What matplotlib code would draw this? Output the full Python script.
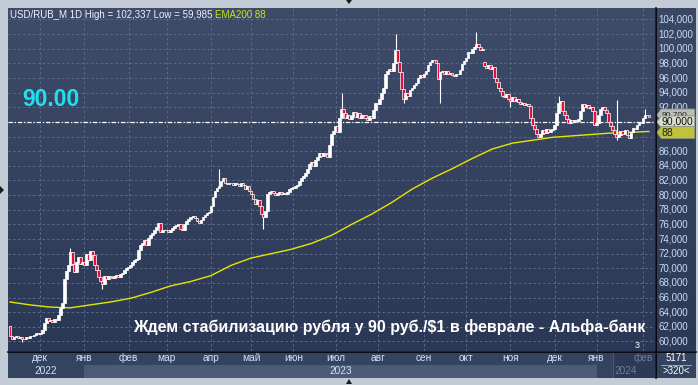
import matplotlib.pyplot as plt
import numpy as np
import pandas as pd
from matplotlib.colors import LinearSegmentedColormap
from matplotlib.lines import Line2D
from matplotlib.patches import Polygon, Rectangle
from matplotlib.transforms import blended_transform_factory

plt.rcParams["font.family"] = ["Liberation Sans", "DejaVu Sans"]

W, H = 698, 385

# ---- data: USD/RUB_M daily closes ----
START, END = "2022-11-10", "2024-02-06"
HOLIDAYS = ["2023-02-23", "2023-03-08", "2023-05-01", "2023-05-09", "2023-06-12"]

close_nov22 = [60.7, 60.4, 60.6, 60.8, 60.5, 60.6, 60.3, 60.4, 60.6, 60.5, 60.8, 60.7, 60.9, 61.2, 61.0]
close_dec22 = [61.2, 61.6, 62.5, 63.2, 62.8, 63.0, 62.6, 63.1, 62.9, 63.6, 64.6, 65.2, 68.5, 69.6,
               70.5, 72.2, 70.6, 69.5, 70.8, 71.6, 70.6, 70.9]
close_jan23 = [70.4, 72.0, 71.2, 72.3, 71.8, 70.5, 69.8, 68.8, 68.2, 67.9, 68.9, 68.6, 69.0, 68.8,
               68.7, 68.9, 69.1, 68.8, 69.2, 69.4, 69.8, 70.0]
close_feb23 = [70.2, 70.5, 70.9, 71.1, 71.3, 72.5, 73.2, 73.5, 73.9, 73.2, 74.2, 74.5, 74.8, 75.2,
               75.6, 76.2, 75.0, 75.3, 75.2]
close_mar23 = [75.2, 75.0, 75.3, 75.5, 75.8, 75.9, 76.0, 75.4, 75.2, 76.1, 76.5, 76.8, 77.0, 77.2,
               76.9, 76.4, 76.2, 76.6, 77.0, 77.3, 77.5, 77.7]
close_apr23 = [78.5, 79.8, 80.6, 81.0, 81.3, 81.9, 82.4, 81.6, 81.5, 81.7, 81.6, 81.4, 81.7, 81.5,
               81.3, 81.6, 81.4, 80.9, 81.2, 80.6]
close_may23 = [80.2, 79.5, 78.8, 79.3, 78.5, 77.4, 77.0, 77.8, 80.2, 80.4, 80.6, 80.3, 80.0, 80.2,
               80.4, 80.1, 80.3, 80.2, 80.4, 80.8, 81.0]
close_jun23 = [81.0, 81.2, 81.4, 81.9, 82.3, 82.6, 83.0, 83.6, 84.2, 84.5, 84.0, 84.8, 85.2, 85.8,
               85.3, 85.7, 85.6, 85.2, 86.8, 88.3, 88.8]
close_jul23 = [89.5, 88.6, 90.5, 91.8, 91.2, 90.6, 91.0, 90.4, 90.8, 91.3, 90.7, 91.2, 90.6, 90.9,
               91.0, 90.5, 90.3, 90.8, 90.6, 91.7, 92.6]
close_aug23 = [92.4, 93.2, 94.0, 94.6, 96.5, 96.9, 97.3, 97.0, 98.0, 99.8, 98.2, 96.8, 94.5, 93.2,
               94.0, 93.6, 94.3, 94.6, 95.0, 95.3, 96.0, 96.4, 96.2]
close_sep23 = [96.6, 97.0, 97.8, 98.2, 98.5, 98.4, 98.1, 95.8, 96.8, 97.0, 96.6, 96.9, 96.5, 96.7,
               96.4, 96.3, 96.6, 96.5, 97.1, 97.9, 98.3]
close_oct23 = [98.8, 99.6, 99.4, 99.9, 100.3, 100.6, 100.2, 99.8, 100.0, 97.6, 97.4, 97.8, 97.3,
               97.5, 96.0, 95.5, 94.6, 94.2, 93.6, 93.4, 93.8, 93.2]
close_nov23 = [92.9, 93.4, 92.9, 93.1, 92.7, 92.4, 92.6, 92.3, 92.5, 92.2, 90.6, 89.6, 89.0, 88.4,
               88.0, 88.3, 88.9, 88.5, 89.0, 88.6, 88.9, 89.1]
close_dec23 = [89.6, 91.2, 92.6, 92.9, 91.5, 91.0, 90.4, 89.9, 90.2, 90.0, 90.3, 90.1, 90.4, 91.5,
               92.4, 92.0, 92.3, 91.9, 92.1, 91.5, 89.6]
close_jan24 = [89.8, 91.0, 91.8, 92.0, 91.6, 91.2, 90.0, 89.4, 88.9, 88.3, 87.9, 88.2, 88.8, 88.4,
               88.9, 88.2, 87.8, 88.6, 89.2, 89.0, 89.6, 90.0, 89.8]
close_feb24 = [90.5, 91.0, 90.9, 90.7]

FIRST_OPEN = 62.1
OPEN_GAPS = {"2023-10-13": 98.2}
# visible shadows: date -> (low, high), None keeps the body end
WICKS = {
    "2022-11-18": (59.985, None),
    "2022-12-22": (None, 72.8),
    "2023-01-13": (67.2, None),
    "2023-04-07": (None, 83.6),
    "2023-05-11": (75.4, None),
    "2023-07-06": (None, 94.0),
    "2023-08-14": (None, 101.95),
    "2023-08-18": (92.6, None),
    "2023-09-13": (92.6, None),
    "2023-10-09": (None, 102.337),
    "2023-11-01": (92.0, None),
    "2023-12-05": (None, 93.5),
    "2024-01-15": (87.5, 93.0),
    "2024-02-02": (None, 91.8),
}

# EMA200, every 10th bar
ema_bar = [0, 10, 20, 30, 40, 50, 60, 70, 80, 90, 100, 110, 120, 130, 140, 150, 160, 170, 180,
           190, 200, 210, 220, 230, 240, 250, 260, 270, 280, 290, 300, 310, 318]
ema_val = [65.4, 65.0, 64.7, 64.6, 65.0, 65.4, 65.9, 66.7, 67.6, 68.2, 69.0, 70.4, 71.4, 72.0,
           72.6, 73.4, 74.5, 76.0, 77.4, 79.0, 80.8, 82.3, 83.6, 85.0, 86.3, 87.1, 87.5, 87.9,
           88.1, 88.3, 88.5, 88.6, 88.7]

MONTHS = ["янв", "фев", "мар", "апр", "май", "июн", "июл", "авг", "сен", "окт", "ноя", "дек"]
TARGET = 90.0
NOTE = "Ждем стабилизацию рубля у 90 руб./$1 в феврале - Альфа-банк"

# ---- build candles ----
dates = pd.bdate_range(START, END)
dates = dates[~dates.isin(pd.to_datetime(HOLIDAYS))]
closes = np.array(close_nov22 + close_dec22 + close_jan23 + close_feb23 + close_mar23 + close_apr23
                  + close_may23 + close_jun23 + close_jul23 + close_aug23 + close_sep23 + close_oct23
                  + close_nov23 + close_dec23 + close_jan24 + close_feb24)
assert len(closes) == len(dates), (len(closes), len(dates))
n = len(closes)
idx = np.arange(n)
pos = {d.strftime("%Y-%m-%d"): i for i, d in enumerate(dates)}

opens = np.r_[FIRST_OPEN, closes[:-1]]
for d, o in OPEN_GAPS.items():
    opens[pos[d]] = o
highs = np.maximum(opens, closes)
lows = np.minimum(opens, closes)
for d, (lo, hi) in WICKS.items():
    if lo is not None:
        lows[pos[d]] = lo
    if hi is not None:
        highs[pos[d]] = hi


def box(x0, y0, x1, y1):
    return [x0 / W, 1 - y1 / H, (x1 - x0) / W, (y1 - y0) / H]


XLIM = (-1.0, 321.0)
YLIM = (58.70, 105.57)

fig = plt.figure(figsize=(W / 100, H / 100), dpi=100, facecolor="#c3cbd7")

# ---- main price panel ----
ax = fig.add_axes(box(8, 8, 655, 351))
ax.set_xlim(*XLIM)
ax.set_ylim(*YLIM)
bg = LinearSegmentedColormap.from_list("bg", ["#3f4c69", "#2b3855"])
ax.imshow(np.linspace(0, 1, 256).reshape(-1, 1), cmap=bg, aspect="auto",
          extent=(*XLIM, *YLIM), zorder=0)
ax.set_axis_off()

grid_kw = dict(color="#5a6a8a", lw=0.7, ls=(0, (2.5, 2.5)), zorder=1)
for v in range(60, 105, 2):
    ax.axhline(v, **grid_kw)
month_start = [i for i in range(1, n) if dates[i].month != dates[i - 1].month]
for i in month_start:
    ax.axvline(i, **grid_kw)

ax.plot(ema_bar, ema_val, color="#e6e600", lw=1.0, zorder=2)
ax.axhline(TARGET, color="white", lw=0.9, ls=(0, (3.5, 1.5, 1, 1.5)), zorder=2)

up = closes >= opens
ax.vlines(idx, lows, highs, color="white", lw=0.8, zorder=3)
ax.bar(idx, np.maximum(np.abs(closes - opens), 0.1), bottom=np.minimum(opens, closes),
       width=1.35, color=np.where(up, "white", "#e3103a"), edgecolor="white",
       linewidth=0.5, zorder=4)

# ---- right price scale ----
rx = fig.add_axes(box(656, 8, 696, 351))
rx.set_xlim(0, 1)
rx.set_ylim(*YLIM)
rbg = LinearSegmentedColormap.from_list("rbg", ["#3a4865", "#2c3a57"])
rx.imshow(np.linspace(0, 1, 256).reshape(-1, 1), cmap=rbg, aspect="auto",
          extent=(0, 1, *YLIM), zorder=0)
rx.set_axis_off()
rt = blended_transform_factory(rx.transAxes, rx.transData)
covered = {TARGET, float(int(ema_val[-1]))}
for v in range(60, 105, 2):
    if float(v) in covered:
        continue
    rx.text(0.06, v, f"{v:.3f}".replace(".", ","), transform=rt, fontsize=7,
            color="#c9dbf6", va="center", ha="left", zorder=1)


def price_tag(v, text, face, tcolor, z, fs=7.5):
    h = 0.82
    rx.add_patch(Polygon([(0.02, v), (0.13, v + h), (0.97, v + h), (0.97, v - h), (0.13, v - h)],
                         closed=True, transform=rt, facecolor=face, edgecolor="#8a8f80",
                         lw=0.6, zorder=z))
    rx.text(0.15, v, text, transform=rt, fontsize=fs, color=tcolor, va="center",
            ha="left", zorder=z + 0.1)


# last price tag, mostly hidden under the target tag
price_tag(TARGET + 0.95, f"{closes[-1]:.3f}".replace(".", ","), "#b9bdb9", "#222222", 3, fs=6)
price_tag(TARGET, f"{TARGET:.3f}".replace(".", ","), "#d9dccd", "#111111", 4)
price_tag(ema_val[-1] - 0.15, f"{int(ema_val[-1])}", "#bfc23a", "#222222", 5)

# ---- time scale ----
bx = fig.add_axes(box(8, 352, 655, 378))
bx.set_xlim(*XLIM)
bx.set_ylim(0, 1)
bx.set_facecolor("#34435f")
for s in bx.spines.values():
    s.set_visible(False)
bx.set_xticks([])
bx.set_yticks([])

year_start = [i for i in month_start if dates[i].month == 1]
bx.add_patch(Rectangle((year_start[0], 0), year_start[1] - year_start[0], 0.5,
                       facecolor="#4a5a77", edgecolor="none"))
last_m = month_start[-1]
bx.add_patch(Rectangle((last_m - 15, 0), XLIM[1] - last_m + 15, 1,
                       facecolor="#2c3a58", edgecolor="#4e5e7c", lw=0.6))
for i in month_start:
    dim = i == last_m
    bx.text(i, 0.76, MONTHS[dates[i].month - 1], fontsize=7.3, ha="center", va="center",
            color="#6c7c99" if dim else "#d4e2f6")
edges = [XLIM[0]] + year_start + [XLIM[1]]
for k in range(len(edges) - 1):
    yr = dates[max(int(np.ceil(edges[k])), 0)].year
    dim = k == len(edges) - 2
    bx.text((edges[k] + edges[k + 1]) / 2, 0.27, str(yr), fontsize=7.3, ha="center",
            va="center", color="#6c7c99" if dim else "#d4e2f6")

cx = fig.add_axes(box(656, 352, 696, 378))
cx.set_facecolor("#33425e")
cx.set_xticks([])
cx.set_yticks([])
for s in cx.spines.values():
    s.set_visible(False)
cx.text(0.5, 0.76, "5171", fontsize=7, color="white", ha="center", va="center",
        transform=cx.transAxes)
cx.plot([0.12, 0.88], [0.5, 0.5], color="#aab4c6", lw=0.6, transform=cx.transAxes)
cx.text(0.5, 0.26, ">320<", fontsize=7, color="white", ha="center", va="center",
        transform=cx.transAxes)

# separators
fig.add_artist(Line2D([655.5 / W] * 2, [1 - 8 / H, 1 - 378 / H], color="black", lw=1.2))
fig.add_artist(Line2D([8 / W, 696 / W], [1 - 351.5 / H] * 2, color="black", lw=1.2))

# ---- texts ----
hdr = (f"USD/RUB_M 1D High = {highs.max():.3f} Low = {lows.min():.3f}"
       .replace(".", ","))
fig.text(10 / W, 1 - 15 / H, hdr, fontsize=7, color="#eef2fa", va="center", ha="left")
fig.text(215 / W, 1 - 15 / H, f"EMA200 {int(ema_val[-1])}", fontsize=7, color="#c8e41c",
         va="center", ha="left")
fig.text(22 / W, 1 - 100 / H, f"{TARGET:.2f}", fontsize=16.5, fontweight="bold",
         color="#1fe0ef", va="center", ha="left")
fig.text(645 / W, 1 - 327 / H, NOTE, fontsize=11.5, fontweight="bold", color="white",
         va="center", ha="right")
fig.text(637 / W, 1 - 345 / H, "3", fontsize=6.5, color="white", va="center", ha="center")

# scroll markers
for pts in ([(346, 0), (352, 0), (349, 4)], [(346, 384), (352, 384), (349, 379)],
            [(0, 186), (0, 194), (4, 190)]):
    fig.add_artist(Polygon([(x / W, 1 - y / H) for x, y in pts], closed=True,
                           transform=fig.transFigure, facecolor="#1a1a1a", edgecolor="none"))

fig.savefig("out.png", dpi=100)
